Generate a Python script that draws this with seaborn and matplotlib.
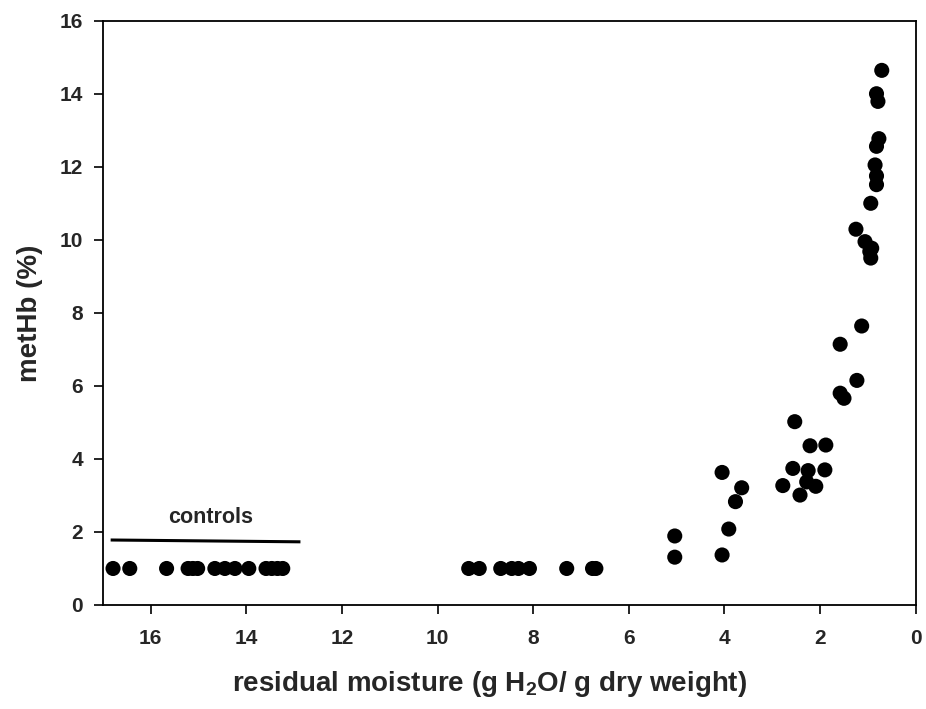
import matplotlib
matplotlib.use("Agg")
import matplotlib.pyplot as plt
import seaborn as sns
import pandas as pd

# ---- data ----
control_x = [16.79, 16.44, 15.67, 15.22, 15.12, 15.02, 14.66, 14.45, 14.24, 13.95,
             13.59, 13.47, 13.35, 13.24]
control_y = [1.0] * len(control_x)

dried_x = [9.35, 9.13, 8.68, 8.45, 8.31, 8.08, 7.30, 6.76, 6.69,
           5.04, 5.04, 4.05, 3.64, 3.77, 3.91, 4.05,
           2.53, 2.57, 2.78, 2.42, 2.25, 2.28, 2.09, 1.90, 2.21, 1.88,
           1.58, 1.50, 1.23, 1.58, 1.13,
           0.94, 0.96, 0.92, 1.06, 1.25, 0.94, 0.82, 0.82, 0.85, 0.82, 0.77,
           0.79, 0.82, 0.71]
dried_y = [1.0, 1.0, 1.0, 1.0, 1.0, 1.0, 1.0, 1.0, 1.0,
           1.89, 1.31, 3.63, 3.21, 2.83, 2.08, 1.37,
           5.02, 3.74, 3.27, 3.01, 3.68, 3.37, 3.25, 3.70, 4.36, 4.38,
           5.80, 5.66, 6.15, 7.14, 7.64,
           9.50, 9.68, 9.77, 9.95, 10.29, 11.00, 11.51, 11.75, 12.05, 12.56, 12.77,
           13.79, 14.00, 14.64]

x_ticks = [16, 14, 12, 10, 8, 6, 4, 2, 0]
y_ticks = [0, 2, 4, 6, 8, 10, 12, 14, 16]

controls_line_x = [16.84, 12.87]
controls_line_y = [1.78, 1.73]

x_label = "residual moisture (g H$_2$O/ g dry weight)"
y_label = "metHb (%)"

df = pd.DataFrame({"moisture": control_x + dried_x,
                   "metHb": control_y + dried_y})

# ---- style ----
sns.set_style("ticks")
plt.rcParams["font.family"] = ["Liberation Sans", "DejaVu Sans"]
plt.rcParams["font.weight"] = "bold"
plt.rcParams["mathtext.fontset"] = "custom"
plt.rcParams["mathtext.rm"] = "Liberation Sans:bold"
plt.rcParams["mathtext.it"] = "Liberation Sans:bold"
plt.rcParams["mathtext.bf"] = "Liberation Sans:bold"
plt.rcParams["mathtext.default"] = "rm"

fig = plt.figure(figsize=(9.26, 7.09), dpi=100)
ax = fig.add_axes([103 / 926, 1 - 605 / 709, (915.7 - 103) / 926, (605 - 20.7) / 709])

sns.scatterplot(data=df, x="moisture", y="metHb", ax=ax, color="black",
                s=118, edgecolor="none", linewidth=0, zorder=3, legend=False)

ax.plot(controls_line_x, controls_line_y, color="black", lw=2.2, solid_capstyle="butt")
ax.text(14.75, 2.12, "controls", fontsize=15.5, fontweight="bold", ha="center", va="bottom")

ax.set_xlim(17.0, 0)
ax.set_ylim(0, 16)
ax.set_xticks(x_ticks)
ax.set_yticks(y_ticks)
ax.set_xticklabels([str(t) for t in x_ticks])
ax.set_yticklabels([str(t) for t in y_ticks])

for side in ["left", "bottom", "top", "right"]:
    ax.spines[side].set_visible(True)
    ax.spines[side].set_linewidth(1.3)
    ax.spines[side].set_color("black")

ax.tick_params(axis="both", direction="out", length=6.5, width=1.2, color="black",
               labelsize=15, pad=11)
ax.tick_params(axis="y", pad=8)
ax.tick_params(top=False, right=False)

ax.set_xlabel(x_label, fontsize=20, fontweight="bold", labelpad=15)
ax.xaxis.label.set_x(0.476)
ax.set_ylabel(y_label, fontsize=20, fontweight="bold", labelpad=12)

fig.savefig("out.png", dpi=100)
